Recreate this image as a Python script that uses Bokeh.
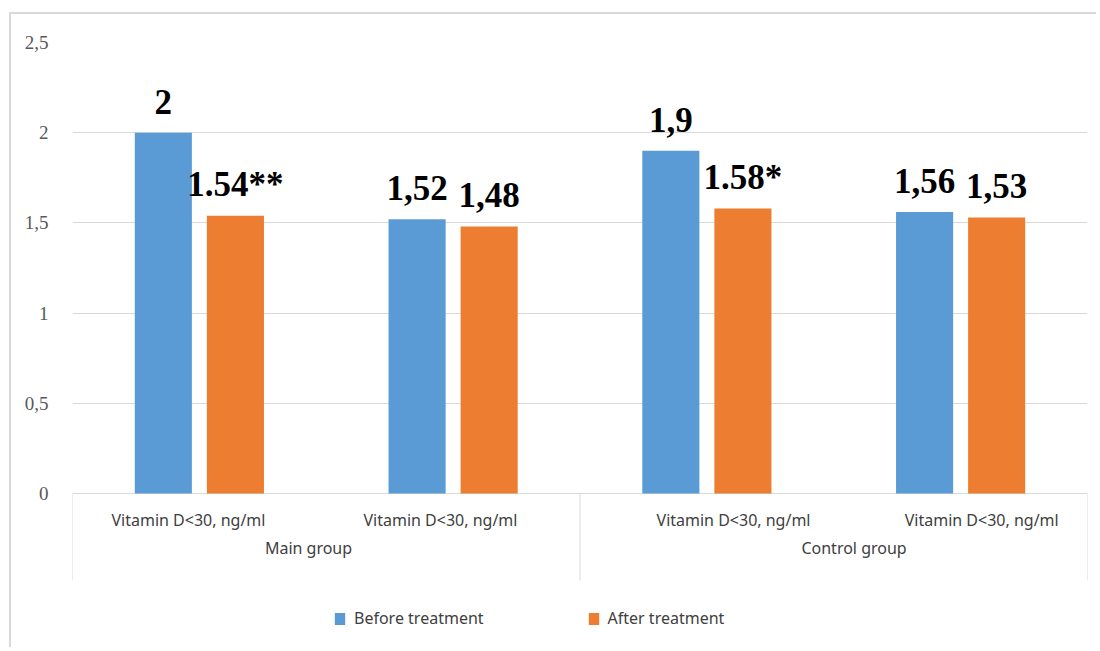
import numpy as np
from bokeh.plotting import figure
from bokeh.models import ColumnDataSource, FixedTicker, Legend, LegendItem
from bokeh.core.properties import value
from bokeh.embed import file_html
from bokeh.resources import INLINE

# ---- data ----
groups = ["Main group", "Control group"]
subcats = ["Vitamin D<30, ng/ml", "Vitamin D<30, ng/ml", "Vitamin D<30, ng/ml", "Vitamin D<30, ng/ml"]
before = [2.0, 1.52, 1.9, 1.56]
after = [1.54, 1.48, 1.58, 1.53]
before_labels = ["2", "1,52", "1,9", "1,56"]
after_labels = ["1.54**", "1,48", "1.58*", "1,53"]
series_names = ["Before treatment", "After treatment"]
y_ticks = [0, 0.5, 1, 1.5, 2, 2.5]
y_tick_labels = ["0", "0,5", "1", "1,5", "2", "2,5"]

# ---- style / layout ----
BLUE = "#5b9bd5"
ORANGE = "#ed7d31"
GRID = "#d9d9d9"
TXT = "#404040"
BAR_W = 0.225
OFFSET = 0.142
LABEL_FONT = "Noto Sans"
Y_MIN = -0.865          # room under the value axis for the category labels and legend
SEP_LEN = 0.482         # length of the category separators below zero
sub_pos = [0.457, 1.45, 2.605, 3.583]   # label anchor positions (category units)
grp_pos = [0.93, 3.08]

n = len(before)
idx = np.arange(n)
src_b = ColumnDataSource(dict(x=idx + 0.5 - OFFSET, top=before, label=before_labels))
src_a = ColumnDataSource(dict(x=idx + 0.5 + OFFSET, top=after, label=after_labels))

p = figure(width=1087, height=635, x_range=(0, n), y_range=(Y_MIN, 2.5),
           output_backend="svg", toolbar_location=None, x_axis_location=None,
           min_border_left=61, min_border_right=11, min_border_top=28,
           min_border_bottom=0)
p.styles = {"border-left": "2px solid #d9d9d9", "border-top": "2px solid #d9d9d9",
            "margin-top": "12px", "margin-left": "9px"}
p.outline_line_color = None
p.xgrid.visible = False

# y axis
p.yaxis.ticker = FixedTicker(ticks=y_ticks)
p.yaxis.major_label_overrides = {t: l for t, l in zip(y_ticks, y_tick_labels)}
p.yaxis.axis_line_color = None
p.yaxis.major_tick_line_color = None
p.yaxis.minor_tick_line_color = None
p.yaxis.major_label_text_font = "Liberation Serif"
p.yaxis.major_label_text_font_size = "19px"
p.yaxis.major_label_text_color = "#595959"
p.yaxis.major_label_standoff = 18
p.ygrid.ticker = FixedTicker(ticks=y_ticks)
p.ygrid.grid_line_color = GRID

# bars
rb = p.vbar(x="x", top="top", width=BAR_W, source=src_b, fill_color=BLUE, line_color=None)
ra = p.vbar(x="x", top="top", width=BAR_W, source=src_a, fill_color=ORANGE, line_color=None)

# data labels
for src in (src_b, src_a):
    p.text(x="x", y="top", text="label", source=src, text_align="center",
           text_baseline="alphabetic", y_offset=-31, text_font=value("Liberation Serif"),
           text_font_style="bold", text_font_size="35px", text_color="black")

# category separators below the value axis
sep_x = [0, n / 2, n]
p.segment(x0=sep_x, y0=[0] * 3, x1=sep_x, y1=[-SEP_LEN] * 3, line_color=GRID, line_width=1)

# category labels
p.text(x=sub_pos, y=[0] * n, text=subcats, text_align="center", text_baseline="middle",
       y_offset=27, text_font=value(LABEL_FONT), text_font_size="16px", text_color=TXT)
p.text(x=grp_pos, y=[0] * 2, text=groups, text_align="center", text_baseline="middle",
       y_offset=55, text_font=value(LABEL_FONT), text_font_size="16px", text_color=TXT)

legend = Legend(items=[LegendItem(label=series_names[0], renderers=[rb]),
                       LegendItem(label=series_names[1], renderers=[ra])],
                orientation="horizontal", location=(261, 20), glyph_width=13, glyph_height=15,
                label_standoff=8, spacing=103, border_line_color=None,
                background_fill_alpha=0,
                label_text_font=LABEL_FONT, label_text_font_size="16px",
                label_text_color=TXT, padding=8, margin=0)
p.add_layout(legend, "center")

open("out.html", "w").write(file_html(p, INLINE))
